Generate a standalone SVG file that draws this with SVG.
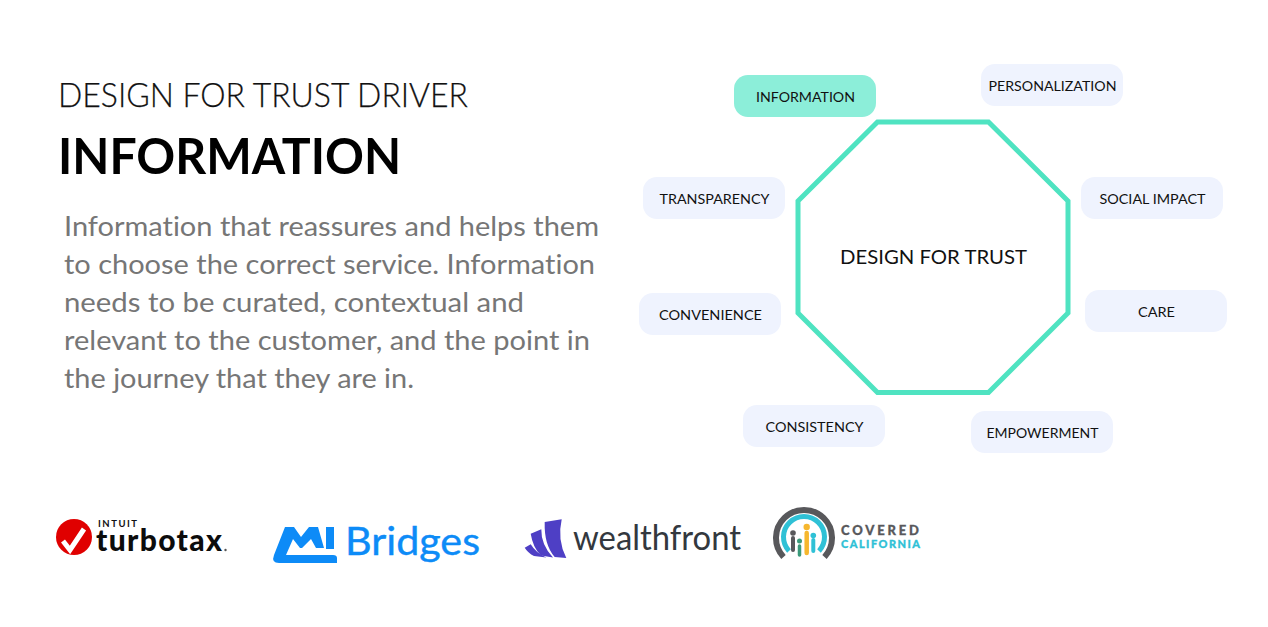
<svg xmlns="http://www.w3.org/2000/svg" width="1268" height="627" viewBox="0 0 1268 627">
<style>
text{font-family:"Lato","Noto Sans","Liberation Sans",sans-serif;font-variant-ligatures:none}
.pill{fill:#eff3fe}
.lab{font-size:14px;fill:#111;text-anchor:middle}
.body{font-size:27px;fill:#767676}
</style>
<rect width="1268" height="627" fill="#fff"/>
<text x="58" y="107" font-size="33" font-weight="300" fill="#111" stroke="#111" stroke-width=".25" textLength="410" lengthAdjust="spacingAndGlyphs">DESIGN FOR TRUST DRIVER</text>
<text x="58" y="174" font-size="49" font-weight="700" fill="#000" textLength="343" lengthAdjust="spacingAndGlyphs">INFORMATION</text>
<g class="body">
<text x="64" y="236" textLength="535" lengthAdjust="spacingAndGlyphs">Information that reassures and helps them</text>
<text x="64" y="274" textLength="531" lengthAdjust="spacingAndGlyphs">to choose the correct service. Information</text>
<text x="64" y="312" textLength="460" lengthAdjust="spacingAndGlyphs">needs to be curated, contextual and</text>
<text x="64" y="350" textLength="526" lengthAdjust="spacingAndGlyphs">relevant to the customer, and the point in</text>
<text x="64" y="388" textLength="350" lengthAdjust="spacingAndGlyphs">the journey that they are in.</text>
</g>
<g id="connectors"></g>
<g id="center">
<polygon points="877.500,122 988.500,122 1068,201 1068,313 988.500,392.500 877.500,392.500 798,313 798,201" fill="#fff" stroke="#4fe3c1" stroke-width="5"/>
<text x="933.500" y="264" font-size="20" fill="#111" text-anchor="middle" textLength="187" lengthAdjust="spacingAndGlyphs">DESIGN FOR TRUST</text>
</g>
<g id="n-information"><rect x="734" y="75" width="142" height="42" rx="14" fill="#8ceed9"/><text class="lab" x="805.500" y="102" textLength="99" lengthAdjust="spacingAndGlyphs">INFORMATION</text></g>
<g id="n-personalization"><rect class="pill" x="981" y="64" width="142" height="42" rx="14"/><text class="lab" x="1052.500" y="91" textLength="128" lengthAdjust="spacingAndGlyphs">PERSONALIZATION</text></g>
<g id="n-social"><rect class="pill" x="1081" y="177" width="142" height="42" rx="14"/><text class="lab" x="1152.500" y="204" textLength="106" lengthAdjust="spacingAndGlyphs">SOCIAL IMPACT</text></g>
<g id="n-care"><rect class="pill" x="1085" y="290" width="142" height="42" rx="14"/><text class="lab" x="1156.500" y="317" textLength="37" lengthAdjust="spacingAndGlyphs">CARE</text></g>
<g id="n-empowerment"><rect class="pill" x="971" y="411" width="142" height="42" rx="14"/><text class="lab" x="1042.500" y="438" textLength="112" lengthAdjust="spacingAndGlyphs">EMPOWERMENT</text></g>
<g id="n-consistency"><rect class="pill" x="743" y="405" width="142" height="42" rx="14"/><text class="lab" x="814.500" y="432" textLength="98" lengthAdjust="spacingAndGlyphs">CONSISTENCY</text></g>
<g id="n-convenience"><rect class="pill" x="639" y="293" width="142" height="42" rx="14"/><text class="lab" x="710.500" y="320" textLength="103" lengthAdjust="spacingAndGlyphs">CONVENIENCE</text></g>
<g id="n-transparency"><rect class="pill" x="643" y="177" width="142" height="42" rx="14"/><text class="lab" x="714.500" y="204" textLength="110" lengthAdjust="spacingAndGlyphs">TRANSPARENCY</text></g>

<g id="logo-turbotax">
<circle cx="74" cy="537" r="18" fill="#e00000"/>
<path d="M63 541l7 9l14-21" fill="none" stroke="#fff" stroke-width="5"/>
<text x="98" y="527" font-size="9.500" font-weight="700" fill="#111" textLength="39" lengthAdjust="spacing">INTUIT</text>
<text x="96" y="551" font-size="30" font-weight="900" fill="#0c0c0c" textLength="126" lengthAdjust="spacing">turbotax</text>
<circle cx="225.500" cy="550" r="1.200" fill="#555"/>
</g>
<g id="logo-mibridges" fill="#0d8bf7">
<path d="M285 527H294L301 537L309 527H318L324 548H316L311 539L302 548H300L293 539L286 555H333Q337 555 337 558V563H279Q271 563 274 555Z"/>
<rect x="326" y="527" width="8" height="22"/>
<text x="345" y="555" font-size="38" stroke="#0d8bf7" stroke-width=".4" textLength="135" lengthAdjust="spacingAndGlyphs">Bridges</text>
</g>
<g id="logo-wealthfront" fill="#4e3fc5">
<path d="M544.700 522L561.700 519.300Q557 540 566.300 558L554.700 557Q544 545 544.700 522Z"/>
<path d="M530.700 533.700L541.300 529.300Q541 545 553 557.500L541 555.500Q533 548 530.700 533.700Z"/>
<path d="M524.700 547.700L530.700 544.300Q536 553 546.300 557.500L534 556Q528 553 524.700 547.700Z"/>
</g>
<g id="logo-wealthfront-word">
<text x="573" y="550" font-size="35" fill="#33383e" textLength="168" lengthAdjust="spacingAndGlyphs">wealthfront</text>
</g>
<g id="logo-covered">
<path d="M783.500 557A28 28 0 1 1 824.500 557" fill="none" stroke="#58585b" stroke-width="6"/>
<path d="M789 551A20.500 20.500 0 1 1 819 551" fill="none" stroke="#2fc1d6" stroke-width="5"/>
<g fill="none" stroke-linecap="round">
<path d="M793 538v12" stroke="#58585b" stroke-width="4"/>
<path d="M799.500 546v9" stroke="#3a9a7a" stroke-width="3.500"/>
<path d="M806.700 533v20" stroke="#f6b72e" stroke-width="4.500"/>
<path d="M813.300 540v11" stroke="#2fc1d6" stroke-width="4"/>
</g>
<circle cx="793" cy="533" r="2.800" fill="#58585b"/><circle cx="799.500" cy="541" r="2.500" fill="#3a9a7a"/><circle cx="806.700" cy="527" r="3.200" fill="#f6b72e"/><circle cx="813.300" cy="535.500" r="2.800" fill="#2fc1d6"/>
<text x="841" y="535" font-size="13" font-weight="900" stroke="#58585b" stroke-width=".3" fill="#58585b" textLength="78" lengthAdjust="spacing">COVERED</text>
<text x="841" y="548" font-size="11" font-weight="900" stroke="#2fc1d6" stroke-width=".3" fill="#2fc1d6" textLength="79" lengthAdjust="spacing">CALIFORNIA</text>
</g>
</svg>
